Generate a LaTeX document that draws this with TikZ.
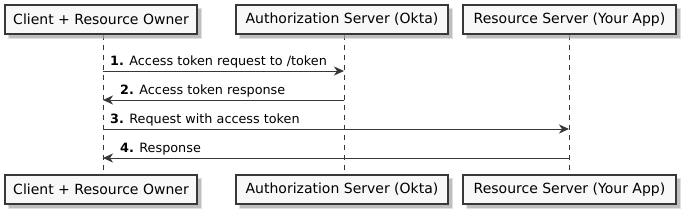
\documentclass[tikz,border=0pt]{standalone}
\usepackage{fontspec}
\setmainfont{DejaVu Sans}
\usetikzlibrary{arrows.meta}
\definecolor{boxfill}{HTML}{F8F8F8}
\definecolor{boxline}{HTML}{383838}
\definecolor{shadowc}{HTML}{A8A8A8}
\begin{document}
\begin{tikzpicture}[x=1pt,y=-1pt,
  part/.style={draw=boxline,line width=1.2pt,fill=boxfill,minimum height=29pt,inner xsep=4pt,font=\fontsize{14}{16}\selectfont,text=black},
  life/.style={draw=boxline,dash pattern=on 5pt off 5pt,line width=0.8pt},
  msg/.style={draw=boxline,line width=0.9pt,-{Stealth[length=10pt,width=9pt,inset=3pt]}},
  lbl/.style={anchor=base west,inner sep=0pt,font=\fontsize{12.8}{15}\selectfont,text=black}]
\useasboundingbox (0,0) rectangle (686,219);
% lifelines
\coordinate (l1t) at (103,35); \coordinate (l1b) at (103,175);
\coordinate (l2t) at (344,35); \coordinate (l2b) at (344,175);
\coordinate (l3t) at (569,35); \coordinate (l3b) at (569,175);
\draw[life] (l1t) -- (l1b);
\draw[life] (l2t) -- (l2b);
\draw[life] (l3t) -- (l3b);
% shadows
\foreach \cx/\w in {101/192,342/212,569.5/213}{
  \fill[shadowc,opacity=0.35] (\cx-\w/2+3,8) rectangle (\cx+\w/2+5,39);
  \fill[shadowc,opacity=0.6] (\cx-\w/2+4,9) rectangle (\cx+\w/2+4,38);
  \fill[shadowc,opacity=0.35] (\cx-\w/2+3,178) rectangle (\cx+\w/2+5,209);
  \fill[shadowc,opacity=0.6] (\cx-\w/2+4,179) rectangle (\cx+\w/2+4,208);
}
% participants
\node[part,minimum width=192pt] (a1) at (101,19.5) {Client + Resource Owner};
\node[part,minimum width=212pt] (b1) at (342,19.5) {Authorization Server (Okta)};
\node[part,minimum width=213pt] (c1) at (569.5,19.5) {Resource Server (Your App)};
\node[part,minimum width=192pt] (a2) at (101,189.5) {Client + Resource Owner};
\node[part,minimum width=212pt] (b2) at (342,189.5) {Authorization Server (Okta)};
\node[part,minimum width=213pt] (c2) at (569.5,189.5) {Resource Server (Your App)};
% message anchor points
\coordinate (m1a) at (103,71); \coordinate (m1b) at (344,71);
\coordinate (m2a) at (344,100); \coordinate (m2b) at (103,100);
\coordinate (m3a) at (103,129); \coordinate (m3b) at (569,129);
\coordinate (m4a) at (569,158); \coordinate (m4b) at (103,158);
\draw[msg] (m1a) -- (m1b);
\draw[msg] (m2a) -- (m2b);
\draw[msg] (m3a) -- (m3b);
\draw[msg] (m4a) -- (m4b);
\node[lbl] (t1) at (110,65.5) {\textbf{1.} Access token request to /token};
\node[lbl] (t2) at (120,94.5) {\textbf{2.} Access token response};
\node[lbl] (t3) at (110,123.5) {\textbf{3.} Request with access token};
\node[lbl] (t4) at (120,152.5) {\textbf{4.} Response};
\end{tikzpicture}
\end{document}
